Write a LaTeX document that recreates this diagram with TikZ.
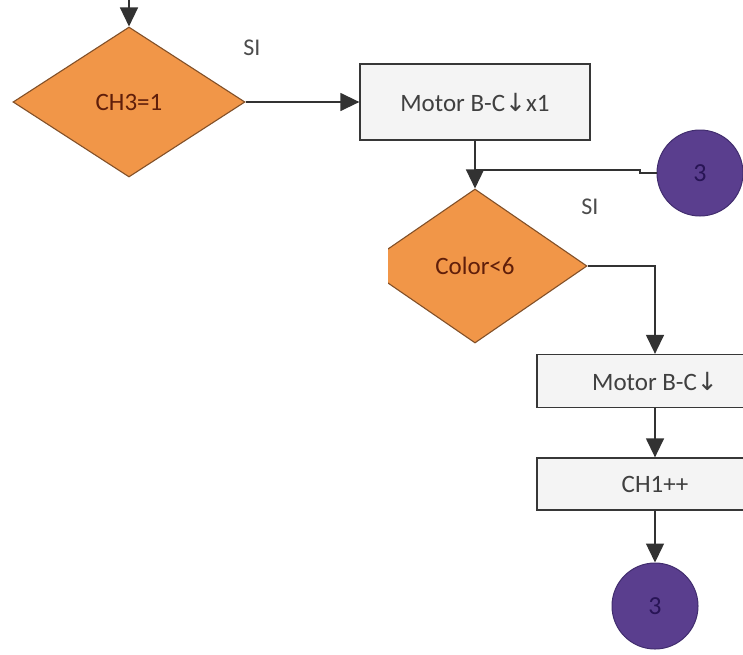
\documentclass[tikz,border=0pt]{standalone}
\usepackage{fontspec}
\setmainfont{Carlito}
\newfontfamily\symfont{DejaVu Sans}
\usetikzlibrary{shapes.geometric,arrows.meta}
\definecolor{decfill}{RGB}{241,150,72}
\definecolor{decedge}{RGB}{130,80,40}
\definecolor{dectext}{RGB}{95,30,10}
\definecolor{boxfill}{RGB}{244,244,244}
\definecolor{boxedge}{RGB}{55,55,55}
\definecolor{conn}{RGB}{90,62,142}
\definecolor{connedge}{RGB}{65,45,110}
\definecolor{conntext}{RGB}{40,20,85}
\definecolor{wire}{RGB}{50,50,50}
\newcommand{\dnarrow}{{\symfont\char"2193}}
\tikzset{
  decision/.style={diamond, draw=decedge, line width=1.1pt, fill=decfill,
    inner sep=0pt, text=dectext, font=\fontsize{25}{27}\selectfont},
  process/.style={rectangle, draw=boxedge, line width=1.3pt, fill=boxfill,
    inner sep=0pt, text=black!75, font=\fontsize{25}{27}\selectfont},
  connector/.style={circle, draw=connedge, line width=1pt, fill=conn,
    inner sep=0pt, minimum size=86pt, text=conntext, font=\fontsize{26}{28}\selectfont},
  flow/.style={draw=wire, line width=1.4pt,
    -{Triangle[length=19pt,width=18pt]}},
  plain/.style={draw=wire, line width=1.4pt},
  yes/.style={text=black!70, font=\fontsize{24}{26}\selectfont}
}
\begin{document}
\begin{tikzpicture}[x=1pt,y=-1pt]
  \useasboundingbox (0,0) rectangle (743,654);
  \fill[white] (0,0) rectangle (743,654);
  \clip (0,0) rectangle (743,654);

  % first test and its action
  \node[decision, minimum width=232pt, minimum height=150pt] (d1) at (129,102) {CH3=1};
  \node[process, minimum width=230pt, minimum height=76pt] (b1) at (475,102) {Motor B-C\dnarrow x1};
  \node[yes] (si1) at (252,48) {SI};

  % second test, cut flat on its left side
  \begin{scope}
    \clip (388,180) rectangle (600,350);
    \node[decision, minimum width=224pt, minimum height=154pt] (d2) at (475,266) {Color<6};
  \end{scope}
  \node[yes] (si2) at (590,207) {SI};

  % right-hand branch
  \node[process, minimum width=236pt, minimum height=53pt] (b2) at (655,381) {Motor B-C\dnarrow};
  \node[process, minimum width=236pt, minimum height=52pt] (b3) at (655,484) {CH1++};

  % on-page connectors
  \node[connector] (c1) at (700,173) {3};
  \node[connector] (c2) at (655,606) {3};

  % connector lines
  \coordinate (entry) at (129,-5);
  \coordinate (jog) at (640,173);
  \coordinate (merge) at (475,170);
  \draw[flow] (entry) -- (d1.north);
  \draw[flow] (d1.east) -- (b1.west);
  \draw[flow] (b1.south) -- (d2.north);
  \draw[plain] (c1.west) -- (jog) -- ++(0,-3) -- (merge);
  \draw[flow] (d2.east) -| (b2.north);
  \draw[flow] (b2.south) -- (b3.north);
  \draw[flow] (b3.south) -- (c2.north);
\end{tikzpicture}
\end{document}
